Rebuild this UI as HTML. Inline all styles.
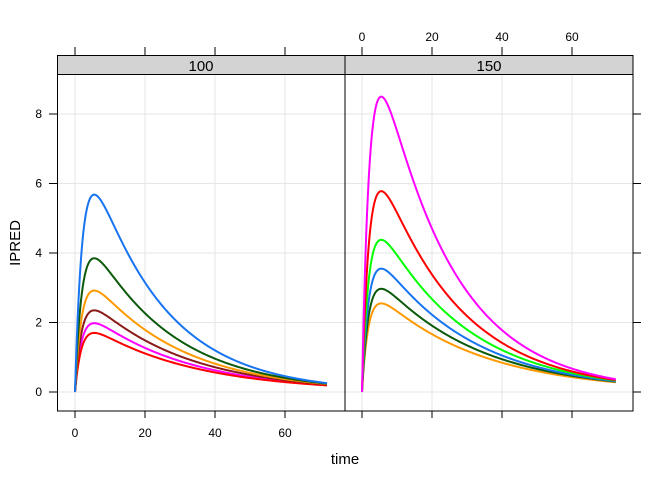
<!DOCTYPE html>
<html><head><meta charset="utf-8"><style>
body{margin:0;background:#fff}
svg text{font-family:"Liberation Sans",Arial,sans-serif;fill:#000}
</style></head><body>
<svg id="s" width="672" height="480" xmlns="http://www.w3.org/2000/svg">
<g id="grid" stroke="#e6e6e6" stroke-width="1"></g>
<g id="curves" fill="none" stroke-width="2"></g>
<g stroke="#000" stroke-width="1" fill="none">
<rect x="57.5" y="55.5" width="287.5" height="19" fill="#d3d3d3"/>
<rect x="345" y="55.5" width="288" height="19" fill="#d3d3d3"/>
<rect x="57.5" y="74.5" width="575.5" height="336.5"/>
<line x1="345" y1="55.5" x2="345" y2="411"/>
</g>
<g id="ticks" stroke="#000" stroke-width="1"></g>
<text x="201" y="71" font-size="15" text-anchor="middle">100</text>
<text x="489" y="71" font-size="15" text-anchor="middle">150</text>
<text x="345" y="464" font-size="15" text-anchor="middle">time</text>
<text transform="translate(20,243) rotate(-90)" font-size="15" text-anchor="middle">IPRED</text>
<g id="labels" font-size="12"></g>
</svg>
<script>
var NS="http://www.w3.org/2000/svg";
function el(p,t,a,txt){var e=document.createElementNS(NS,t);for(var k in a)e.setAttribute(k,a[k]);if(txt!=null)e.textContent=txt;document.getElementById(p).appendChild(e);}
function Y(v){return 392-v*34.75;}
var X0=[75,362];
X0.forEach(function(x0,pi){
 var lo=pi==0?57.5:345, hi=pi==0?345:633;
 [0,20,40,60].forEach(function(t){var x=x0+t*3.5;
  el("grid","line",{x1:x,x2:x,y1:74.5,y2:411});
  el("ticks","line",{x1:x,x2:x,y1:411,y2:418});
  el("ticks","line",{x1:x,x2:x,y1:47,y2:55.5});
  if(pi==0) el("labels","text",{x:x,y:437,"text-anchor":"middle"},t);
  else el("labels","text",{x:x,y:41,"text-anchor":"middle"},t);
 });
 [0,2,4,6,8].forEach(function(v){el("grid","line",{x1:lo,x2:hi,y1:Y(v),y2:Y(v)});});
});
[0,2,4,6,8].forEach(function(v){
 el("ticks","line",{x1:49,x2:57.5,y1:Y(v),y2:Y(v)});
 el("ticks","line",{x1:633,x2:641,y1:Y(v),y2:Y(v)});
 el("labels","text",{x:42,y:Y(v)+4,"text-anchor":"end"},v);
});
function curve(pi,P,E,col,tend){
 var tm=5.5, ke=-Math.log(E/P)/(tend-tm)*1.03;
 var a=ke*1.01,b=20;
 for(var i=0;i<80;i++){var m=(a+b)/2;var tt=Math.log(m/ke)/(m-ke);if(tt>tm)a=m;else b=m;}
 var ka=(a+b)/2;
 var f=function(t){return Math.exp(-ke*t)-Math.exp(-ka*t);};
 var A=P/f(tm);
 var d="";
 for(var t=0;t<=tend+1e-9;t+=0.25){d+=(t==0?"M":"L")+(X0[pi]+t*3.5).toFixed(2)+","+Y(A*f(t)).toFixed(2);}
 el("curves","path",{d:d,stroke:col});
}
var L=[[0.2,1.98,"#ff00ff"],[0.19,1.7,"#ff0000"],[0.22,2.35,"#8b1a1a"],[0.23,2.92,"#ff9900"],[0.24,3.85,"#0b5a0b"],[0.25,5.68,"#1874f0"]];
L.forEach(function(c){curve(0,c[1],c[0],c[2],72);});
var R=[[0.28,2.55,"#ff9900"],[0.3,2.97,"#0b5a0b"],[0.31,3.55,"#1874f0"],[0.33,4.38,"#00ff00"],[0.34,5.78,"#ff0000"],[0.36,8.5,"#ff00ff"]];
R.forEach(function(c){curve(1,c[1],c[0],c[2],72.5);});
</script>
</body></html>
